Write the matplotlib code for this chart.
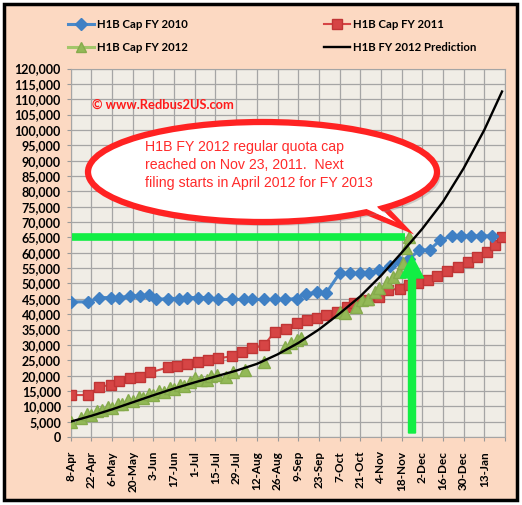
import matplotlib
matplotlib.use('Agg')
import matplotlib.pyplot as plt
from matplotlib import patches, transforms
from matplotlib.lines import Line2D
from matplotlib.ticker import FuncFormatter, MultipleLocator

# x positions are days counted from 8-Apr
tick_labels = ['8-Apr', '22-Apr', '6-May', '20-May', '3-Jun', '17-Jun', '1-Jul',
               '15-Jul', '29-Jul', '12-Aug', '26-Aug', '9-Sep', '23-Sep', '7-Oct',
               '21-Oct', '4-Nov', '18-Nov', '2-Dec', '16-Dec', '30-Dec', '13-Jan', '']

fy2010_day = [0, 12, 19, 27, 33, 40, 47, 53, 58, 66, 73, 79, 86, 93, 100, 109, 117,
              123, 131, 138, 145, 153, 159, 167, 173, 182, 189, 196, 202, 209, 216,
              223, 229, 236, 243, 250, 258, 264, 271, 278, 285]
fy2010_val = [44000, 44000, 45400, 45400, 45400, 45850, 46050, 46270, 44780, 45100,
              45100, 45400, 45400, 45400, 44780, 44780, 44780, 44780, 44780, 44780,
              44780, 45100, 46500, 47260, 46930, 53300, 53300, 53300, 53400, 54300,
              55600, 57000, 58000, 60800, 61000, 64000, 65500, 65500, 65500, 65500,
              65500]

fy2011_day = [0, 12, 19, 27, 33, 40, 47, 54, 66, 72, 79, 86, 93, 100, 109, 116, 123,
              131, 138, 146, 153, 160, 167, 173, 180, 187, 192, 201, 209, 215, 223,
              229, 235, 242, 248, 255, 262, 269, 275, 282, 287, 292]
fy2011_val = [13660, 13660, 16360, 16910, 18210, 19290, 19620, 21050, 22670, 23200,
              23740, 24300, 25040, 25590, 26340, 27740, 28840, 29920, 34250, 35020,
              37170, 38050, 38600, 39670, 40750, 42370, 43480, 44550, 45630, 47800,
              48350, 49430, 50180, 51060, 52360, 53980, 55380, 57010, 58640, 60260,
              62440, 65140]

fy2012_day = [0, 7, 11, 14, 18, 21, 25, 28, 32, 35, 39, 42, 46, 49, 53, 56, 60, 63,
              67, 70, 74, 77, 81, 84, 88, 92, 95, 99, 105, 110, 118, 131, 145, 149,
              153, 156, 182, 186, 193, 197, 201, 206, 209, 214, 218, 222, 225, 227, 229]
fy2012_val = [5000, 6300, 7600, 7100, 8400, 8700, 9700, 9500, 10800, 10600, 11900,
              11700, 12900, 12700, 14000, 13700, 15000, 14800, 16000, 15700, 16900,
              16700, 17900, 19100, 18500, 18500, 19800, 20200, 19600, 21200, 21800,
              24500, 29400, 30500, 31500, 32100, 40800, 40300, 42400, 44500, 45100,
              47300, 48400, 50500, 52000, 53800, 56500, 61400, 65100]

pred_day = [0, 14, 28, 42, 56, 70, 84, 98, 112, 126, 140, 154, 168, 182, 196, 210,
            224, 238, 252, 266, 280, 292]
pred_val = [5000, 6900, 9000, 11300, 13600, 15800, 17800, 19700, 21600, 23800, 26900,
            30600, 35000, 40200, 45800, 52500, 60000, 67800, 76600, 87500, 100000,
            112500]

cap_level = 65000
cap_day = 229

W, H = 522, 505
fig = plt.figure(figsize=(W / 100, H / 100), dpi=100)
fig.patch.set_facecolor('white')
# reference pixel coords (y down) -> figure
pix = transforms.Affine2D().scale(1 / W, -1 / H).translate(0, 1) + fig.transFigure

frame = patches.Rectangle((4, 4), 513, 496, transform=pix, facecolor='#fcd9c2',
                          edgecolor='black', lw=2.5, zorder=-1)
fig.patches.append(frame)

ax = fig.add_axes([70.7 / W, 1 - 437 / H, (505 - 70.7) / W, (437 - 68.5) / H])
ax.set_facecolor('#f0ede6')

ax.plot(fy2010_day, fy2010_val, color='#4a89c8', lw=2.2, marker='D', ms=6,
        mfc='#3f80c4', mec='#3f80c4', zorder=5, label='H1B Cap FY 2010')
ax.plot(fy2011_day, fy2011_val, color='#d64545', lw=1.5, marker='s', ms=7.5,
        mfc='#d64545', mec='#c03535', zorder=4, label='H1B Cap FY 2011')
ax.plot(fy2012_day, fy2012_val, ls='none', marker='^', ms=8.5, mfc='#93b957',
        mec='#86ab4c', zorder=6, label='H1B Cap FY 2012')
ax.plot(pred_day, pred_val, color='black', lw=1.7, zorder=7,
        label='H1B FY 2012 Prediction')

ax.set_xlim(0, 294)
ax.set_ylim(0, 120000)
ax.set_xticks(range(0, 295, 14))
ax.set_xticklabels(tick_labels, rotation=90, fontsize=8.5, fontweight='bold',
                   family='Lato')
ax.yaxis.set_major_locator(MultipleLocator(5000))
ax.yaxis.set_major_formatter(FuncFormatter(lambda v, p: f'{int(v):,}'))
for t in ax.get_yticklabels():
    t.set_fontweight('bold')
    t.set_family('Lato')
    t.set_fontsize(9)
ax.tick_params(axis='y', length=3, pad=4, color='#999999')
ax.tick_params(axis='x', length=3, pad=7, color='#999999')
ax.grid(True, color='#a5a5a5', lw=0.9)
ax.set_axisbelow(True)
for s in ax.spines.values():
    s.set_color('#a5a5a5')

# green marker bar at the cap level
ax.plot([1, cap_day - 3], [cap_level, cap_level], color='#12ee44', lw=5.5,
        solid_capstyle='butt', zorder=3)

# arrow pointing at the day the cap was reached
arrow = patches.FancyArrow(412, 433, 0, -177, width=7, head_width=23, head_length=22,
                           length_includes_head=True, transform=pix, color='#12ee44',
                           zorder=8, clip_on=False)
ax.add_patch(arrow)

# callout bubble
tail = patches.Polygon([(356, 208), (403, 227), (380, 203)], closed=True,
                       transform=pix, facecolor='white', edgecolor='#ff2222', lw=4,
                       zorder=9, clip_on=False)
ax.add_patch(tail)
shadow = patches.Ellipse((266, 176), 349, 100, transform=pix, facecolor='#888888',
                         alpha=0.35, edgecolor='none', zorder=9, clip_on=False)
ax.add_patch(shadow)
bubble = patches.Ellipse((262.5, 172), 349, 100, transform=pix, facecolor='white',
                         edgecolor='#ff2222', lw=4.5, zorder=10, clip_on=False)
ax.add_patch(bubble)
cover = patches.Polygon([(362, 207), (396, 222), (378, 208), (374, 200), (360, 203)],
                        closed=True, transform=pix, facecolor='white',
                        edgecolor='none', zorder=11, clip_on=False)
ax.add_patch(cover)

ax.text(145, 165, 'H1B FY 2012 regular quota cap\nreached on Nov 23, 2011.  Next\n'
        'filing starts in April 2012 for FY 2013', transform=pix, color='#ff2a2a',
        fontsize=10.2, family='Liberation Sans', va='center', ha='left',
        linespacing=1.36, zorder=12)

ax.text(92, 105, '© www.Redbus2US.com', transform=pix, color='#ff1a1a', fontsize=9.3,
        fontweight='bold', family='Lato', va='center', ha='left', zorder=12)

h = ax.get_legend_handles_labels()[0]
handles = [h[0], h[2], h[1], h[3]]
handles[1] = Line2D([], [], color='#a3c66a', lw=2.2, marker='^', ms=7,
                    mfc='#93b957', mec='#86ab4c')
labels = ['H1B Cap FY 2010', 'H1B Cap FY 2012', 'H1B Cap FY 2011',
          'H1B FY 2012 Prediction']
fig.legend(handles, labels, ncol=2, loc='upper left', bbox_to_anchor=(58 / W, 1 - 9 / H),
           frameon=False, prop={'family': 'Lato', 'weight': 'bold', 'size': 8.2},
           handlelength=2.3, handletextpad=0.2, columnspacing=12.0, labelspacing=1.05)

fig.savefig('out.png', dpi=100)
